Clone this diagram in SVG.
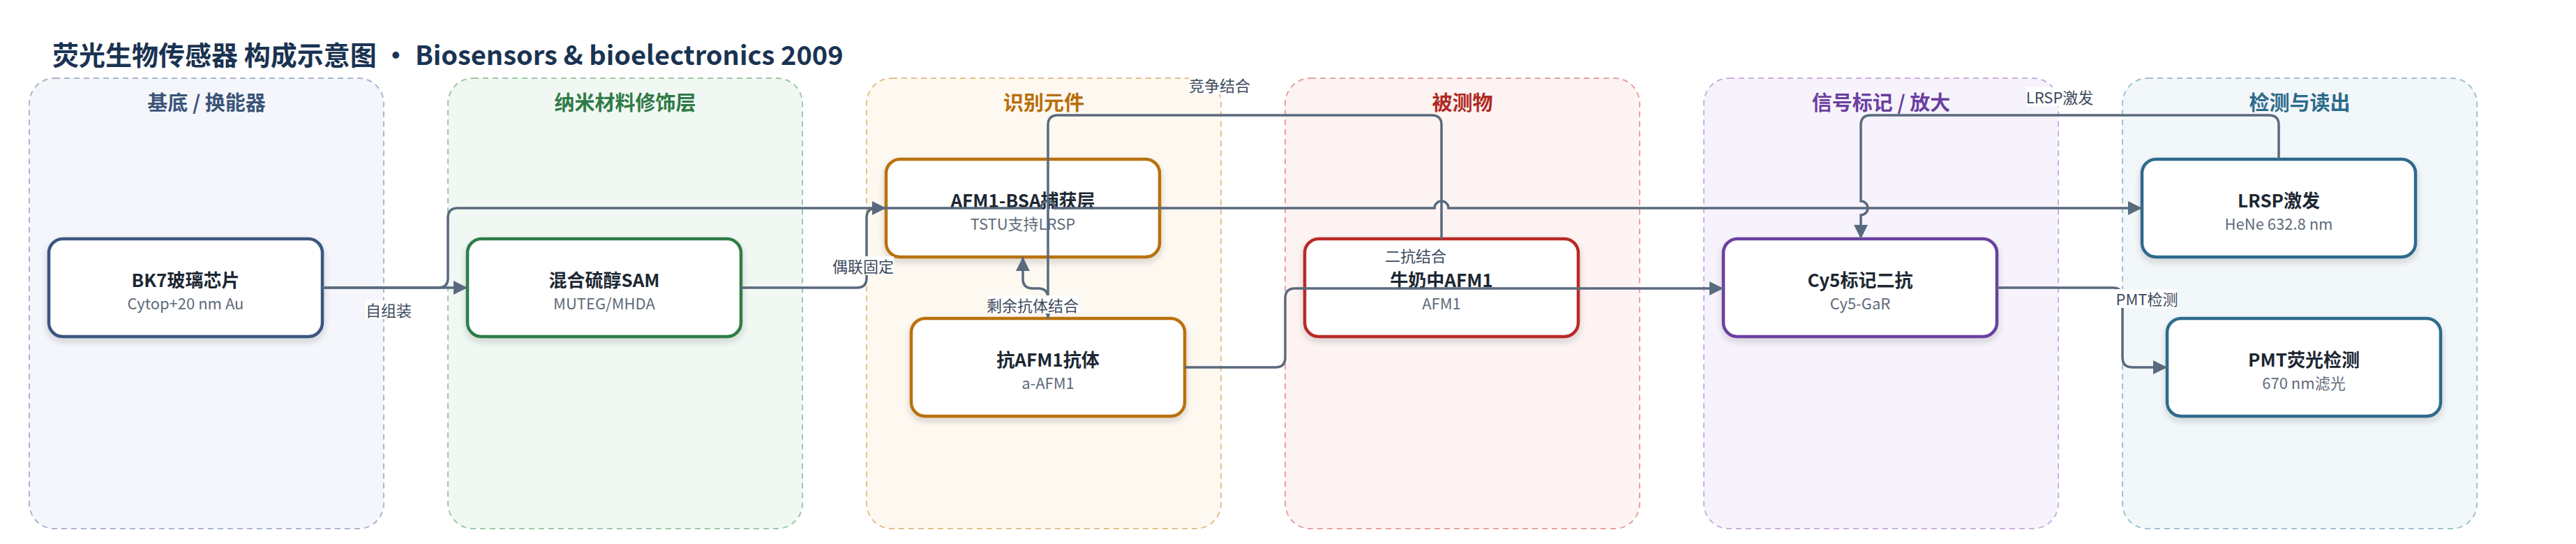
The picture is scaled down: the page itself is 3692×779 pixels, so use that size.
<svg xmlns="http://www.w3.org/2000/svg" width="3692" height="779" viewBox="0 0 3692 779">
<style>
text{font-family:"Noto Sans CJK SC","Noto Sans",sans-serif;dominant-baseline:central;text-anchor:middle}
.title{font-size:38px;font-weight:700;fill:#1a3352;text-anchor:start}
.gt{font-size:29px;font-weight:700}
.grp{stroke-width:2;stroke-dasharray:8 6}
.node rect{fill:#fff;stroke-width:4.5;filter:url(#sh)}
.nt{font-size:26px;font-weight:700;fill:#1c2733}
.ns{font-size:22px;fill:#5f6b7a}
.edge{fill:none;stroke:#5a6a7e;stroke-width:3.5}
.lbg{fill:#fff}
.lt{font-size:22px;fill:#3d4a5c}
</style>
<defs>
<filter id="sh" x="-10%" y="-15%" width="120%" height="140%">
<feDropShadow dx="0" dy="5" stdDeviation="5" flood-color="#1c2733" flood-opacity="0.18"/>
</filter>
<marker id="ar" markerUnits="userSpaceOnUse" markerWidth="20" markerHeight="20" refX="20" refY="10" orient="auto">
<path d="M0,0 L20,10 L0,20 z" fill="#5a6a7e"/>
</marker>
</defs>
<rect width="3692" height="779" fill="#fff"/>
<text class="title" x="75" y="76">荧光生物传感器 构成示意图 · Biosensors &amp; bioelectronics 2009</text>

<g id="groups">
<g id="g-substrate"><rect class="grp" x="42" y="112" width="508" height="645" rx="36" fill="#f4f6fb" stroke="#a9b6cc"/><text class="gt" x="296" y="145" fill="#3b5478">基底 / 换能器</text></g>
<g id="g-nano"><rect class="grp" x="642" y="112" width="508" height="645" rx="36" fill="#f1f8f3" stroke="#9cc9a9"/><text class="gt" x="896" y="145" fill="#2f7a47">纳米材料修饰层</text></g>
<g id="g-recog"><rect class="grp" x="1242" y="112" width="508" height="645" rx="36" fill="#fdf8f0" stroke="#e4c08a"/><text class="gt" x="1496" y="145" fill="#b86e0a">识别元件</text></g>
<g id="g-analyte"><rect class="grp" x="1842" y="112" width="508" height="645" rx="36" fill="#fdf3f3" stroke="#e8a0a0"/><text class="gt" x="2096" y="145" fill="#b02a22">被测物</text></g>
<g id="g-label"><rect class="grp" x="2442" y="112" width="508" height="645" rx="36" fill="#f7f3fc" stroke="#c9b0e0"/><text class="gt" x="2696" y="145" fill="#6b3fa0">信号标记 / 放大</text></g>
<g id="g-detect"><rect class="grp" x="3042" y="112" width="508" height="645" rx="36" fill="#f2f7f9" stroke="#9fc3d0"/><text class="gt" x="3296" y="145" fill="#2c6b8a">检测与读出</text></g>
</g>

<g id="n-bk7" class="node"><rect x="70" y="342" width="392" height="140" rx="20" stroke="#3b5680"/><text class="nt" x="266" y="399">BK7玻璃芯片</text><text class="ns" x="266" y="433">Cytop+20 nm Au</text></g>
<g id="n-sam" class="node"><rect x="670" y="342" width="392" height="140" rx="20" stroke="#2e7d46"/><text class="nt" x="866" y="399">混合硫醇SAM</text><text class="ns" x="866" y="433">MUTEG/MHDA</text></g>
<g id="n-bsa" class="node"><rect x="1270" y="228" width="392" height="140" rx="20" stroke="#b8720c"/><text class="nt" x="1466" y="285">AFM1-BSA捕获层</text><text class="ns" x="1466" y="319">TSTU支持LRSP</text></g>
<g id="n-ab" class="node"><rect x="1306" y="456" width="392" height="140" rx="20" stroke="#b8720c"/><text class="nt" x="1502" y="513">抗AFM1抗体</text><text class="ns" x="1502" y="547">a-AFM1</text></g>
<g id="n-milk" class="node"><rect x="1870" y="342" width="392" height="140" rx="20" stroke="#b82a25"/><text class="nt" x="2066" y="399">牛奶中AFM1</text><text class="ns" x="2066" y="433">AFM1</text></g>
<g id="n-cy5" class="node"><rect x="2470" y="342" width="392" height="140" rx="20" stroke="#6b3fa0"/><text class="nt" x="2666" y="399">Cy5标记二抗</text><text class="ns" x="2666" y="433">Cy5-GaR</text></g>
<g id="n-lrsp" class="node"><rect x="3070" y="228" width="392" height="140" rx="20" stroke="#2e6b8c"/><text class="nt" x="3266" y="285">LRSP激发</text><text class="ns" x="3266" y="319">HeNe 632.8 nm</text></g>
<g id="n-pmt" class="node"><rect x="3106" y="456" width="392" height="140" rx="20" stroke="#2e6b8c"/><text class="nt" x="3302" y="513">PMT荧光检测</text><text class="ns" x="3302" y="547">670 nm滤光</text></g>

<g id="connectors">
<path class="edge" marker-end="url(#ar)" d="M462 412 H670"/>
<path class="edge" marker-end="url(#ar)" d="M462 412 H628 Q642 412 642 398 V312 Q642 298 656 298 H1492 A10 10 0 0 1 1512 298 H2056 A10 10 0 0 1 2076 298 H3070"/>
<path class="edge" marker-end="url(#ar)" d="M1062 412 H1228 Q1242 412 1242 398 V312 Q1242 298 1256 298 H1270"/>
<path class="edge" marker-end="url(#ar)" d="M1502 456 V427 Q1502 413 1488 413 H1480 Q1466 413 1466 399 V368"/>
<path class="edge" marker-end="url(#ar)" d="M2066 342 V179 Q2066 165 2052 165 H1516 Q1502 165 1502 179 V456"/>
<path class="edge" marker-end="url(#ar)" d="M1698 526 H1828 Q1842 526 1842 512 V427 Q1842 413 1856 413 H2470"/>
<path class="edge" marker-end="url(#ar)" d="M3266 228 V179 Q3266 165 3252 165 H2681 Q2667 165 2667 179 V288 A10 10 0 0 1 2667 308 V342"/>
<path class="edge" marker-end="url(#ar)" d="M2862 412 H3028 Q3042 412 3042 426 V512 Q3042 526 3056 526 H3106"/>
<g id="edge-labels">
<rect class="lbg" x="524" y="430" width="66" height="27"/><text class="lt" x="557" y="443">自组装</text>
<rect class="lbg" x="1193" y="367" width="88" height="27"/><text class="lt" x="1237" y="380">偶联固定</text>
<rect class="lbg" x="1414" y="423" width="132" height="26"/><text class="lt" x="1480" y="436">剩余抗体结合</text>
<rect class="lbg" x="1704" y="108" width="88" height="27"/><text class="lt" x="1748" y="121">竞争结合</text>
<rect class="lbg" x="1985" y="352" width="88" height="27"/><text class="lt" x="2029" y="365">二抗结合</text>
<rect class="lbg" x="2904" y="125" width="96" height="27"/><text class="lt" x="2952" y="138">LRSP激发</text>
<rect class="lbg" x="3033" y="414" width="88" height="27"/><text class="lt" x="3077" y="427">PMT检测</text>
</g>
</g>
</svg>
